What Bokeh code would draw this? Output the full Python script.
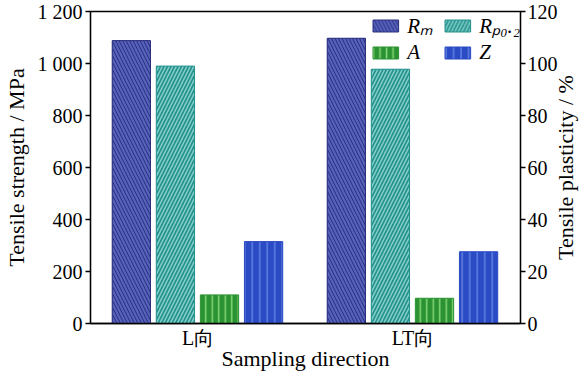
import math
from bokeh.plotting import figure
from bokeh.models import (ColumnDataSource, FactorRange, Range1d, LinearAxis, FixedTicker,
                          Legend, LegendItem, Label)
from bokeh.transform import dodge
from bokeh.embed import file_html
from bokeh.resources import INLINE

directions = ["L向", "LT向"]
rm = [1088, 1097]       # MPa
rp02 = [990, 978]       # MPa
elong_a = [11.0, 9.7]   # %
red_z = [31.5, 27.6]    # %

left_ticks = [0, 200, 400, 600, 800, 1000, 1200]
left_labels = ["0", "200", "400", "600", "800", "1 000", "1 200"]
right_ticks = [0, 20, 40, 60, 80, 100, 120]

src = ColumnDataSource(dict(d=directions, rm=rm, rp=rp02, a=elong_a, z=red_z))

FONT = "Liberation Serif"
TOP, BOTTOM = 11, 53
H = 376

p = figure(width=585, height=H, x_range=FactorRange(*directions), y_range=Range1d(0, 1200),
           output_backend="svg", toolbar_location=None, min_border_left=88,
           min_border_right=64, min_border_top=TOP, min_border_bottom=BOTTOM)
p.extra_y_ranges = {"pct": Range1d(0, 120)}
p.xgrid.visible = False
p.ygrid.visible = False
p.outline_line_color = "black"
p.outline_line_width = 1.3
p.background_fill_color = "white"
p.border_fill_color = "white"

W = 0.178
r1 = p.vbar(x=dodge("d", -0.31, range=p.x_range), top="rm", width=W, source=src,
            fill_color="#2a2e7c", line_color="#2a2e7c", hatch_pattern="\\",
            hatch_color="#5662bc", hatch_scale=7, hatch_weight=2.2)
r2 = p.vbar(x=dodge("d", -0.105, range=p.x_range), top="rp", width=W, source=src,
            fill_color="#23918c", line_color="#23918c", hatch_pattern="/",
            hatch_color="#86cfca", hatch_scale=7, hatch_weight=1.5)
r3 = p.vbar(x=dodge("d", 0.1, range=p.x_range), top="a", width=W, source=src,
            y_range_name="pct", fill_color="#2a9232", line_color="#2a9232",
            hatch_pattern="|", hatch_color="#86d877", hatch_scale=6.5, hatch_weight=1.5)
r4 = p.vbar(x=dodge("d", 0.305, range=p.x_range), top="z", width=W, source=src,
            y_range_name="pct", fill_color="#2b4bc4", line_color="#2b4bc4",
            hatch_pattern="|", hatch_color="#5f7fe2", hatch_scale=7.5, hatch_weight=1.5)

def style_axis(ax):
    ax.axis_line_width = 1.3
    ax.major_tick_line_width = 1.3
    ax.major_tick_out = 5
    ax.major_tick_in = 0
    ax.minor_tick_line_color = None
    ax.major_label_text_font = FONT
    ax.major_label_text_font_size = "20px"
    ax.major_label_text_color = "black"
    ax.major_label_standoff = 3
    ax.axis_label_text_font = FONT
    ax.axis_label_text_font_size = "22px"
    ax.axis_label_text_font_style = "normal"
    ax.axis_label_text_color = "black"

ly = p.yaxis[0]
ly.ticker = FixedTicker(ticks=left_ticks)
ly.major_label_overrides = {t: s for t, s in zip(left_ticks, left_labels)}
ly.axis_label = "Tensile strength / MPa"
style_axis(ly)
ly.axis_label_standoff = 6

ry = LinearAxis(y_range_name="pct", ticker=FixedTicker(ticks=right_ticks))
style_axis(ry)
ry.major_label_standoff = 2
p.add_layout(ry, "right")

# right axis title, reading bottom-to-top like the left one, in its own side panel
frame_h = H - TOP - BOTTOM
p.add_layout(Label(x=5, y=frame_h / 2, x_units="screen", y_units="screen",
                   text="Tensile plasticity / %", angle=math.pi / 2,
                   text_align="center", text_baseline="middle",
                   text_font=FONT, text_font_size="22px", text_color="black"), "right")

bx = p.xaxis[0]
style_axis(bx)
bx.major_tick_line_color = None
bx.major_tick_out = 0
bx.axis_label = "Sampling direction"
bx.major_label_standoff = 3
bx.axis_label_standoff = -6

legend = Legend(items=[LegendItem(label="Rₘ", renderers=[r1]),
                       LegendItem(label="A", renderers=[r3]),
                       LegendItem(label="Rₚ₀.₂", renderers=[r2]),
                       LegendItem(label="Z", renderers=[r4])],
                location="top_right", ncols=2, padding=0, margin=0,
                spacing=1, glyph_width=32, glyph_height=15, label_standoff=6,
                label_width=33, label_height=20,
                label_text_font=FONT, label_text_font_size="21px",
                label_text_font_style="italic", label_text_color="black",
                border_line_color=None, background_fill_alpha=0)
p.add_layout(legend, "center")

open("out.html", "w").write(file_html(p, INLINE))
